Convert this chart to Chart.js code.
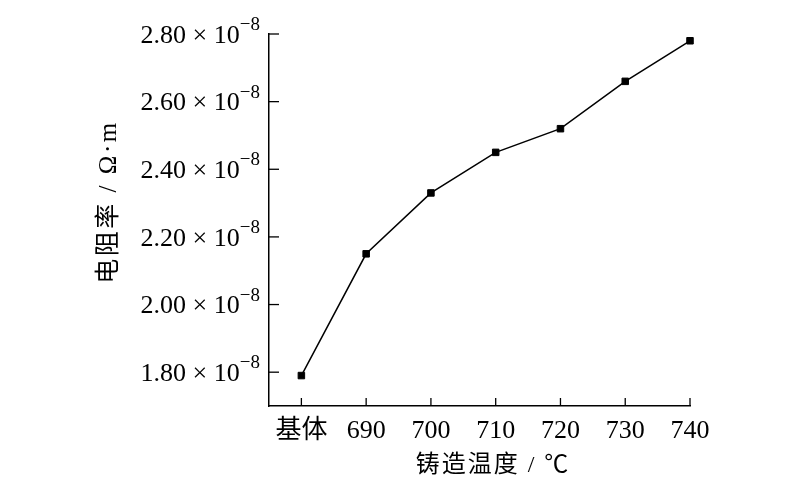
<!DOCTYPE html>
<html>
<head>
<meta charset="utf-8">
<script src="https://cdn.jsdelivr.net/npm/chart.js@4"></script>
<style>
  html, body { margin: 0; padding: 0; background: #fff; }
  #wrap { width: 800px; height: 492px; }
</style>
</head>
<body>
<div id="wrap"><canvas id="grafica"></canvas></div>
<script>
// datos
const categorias = ['基体', '690', '700', '710', '720', '730', '740'];
const resistividad = [1.79, 2.15, 2.33, 2.45, 2.52, 2.66, 2.78]; // ×10^-8 Ω·m
const ticksY = [1.80, 2.00, 2.20, 2.40, 2.60, 2.80];
const tituloX = '铸造温度 / ℃';
const tituloY = '电阻率 / Ω·m';

const fuenteNum = '"Liberation Serif", "Times New Roman", serif';
const fuenteMixta = '"Liberation Serif", "Noto Sans CJK SC", serif';

// dibuja etiquetas, marcas interiores y títulos a mano (superíndices)
const textos = {
  id: 'textos',
  afterDraw(chart) {
    const ctx = chart.ctx;
    const x = chart.scales.x, y = chart.scales.y;
    const area = chart.chartArea;
    ctx.save();
    ctx.strokeStyle = '#000';
    ctx.lineWidth = 1.3;
    ctx.fillStyle = '#000';

    // eje Y
    ticksY.forEach(v => {
      const py = y.getPixelForValue(v);
      ctx.beginPath();
      ctx.moveTo(area.left, py);
      ctx.lineTo(area.left + 10, py);
      ctx.stroke();
      // "2.80 × 10" + superíndice "−8"
      ctx.font = '19px ' + fuenteNum;
      ctx.textAlign = 'right';
      ctx.textBaseline = 'middle';
      const sup = '\u22128';
      const wSup = ctx.measureText(sup).width;
      const right = area.left - 9;
      ctx.fillText(sup, right, py - 9);
      ctx.font = '26px ' + fuenteNum;
      ctx.fillText(v.toFixed(2) + ' \u00d7 10', right - wSup, py + 2);
    });

    // eje X
    categorias.forEach((c, i) => {
      const px = x.getPixelForValue(i);
      ctx.beginPath();
      ctx.moveTo(px, area.bottom);
      ctx.lineTo(px, area.bottom - 8);
      ctx.stroke();
      ctx.font = '26px ' + fuenteMixta;
      ctx.textAlign = 'center';
      ctx.textBaseline = 'middle';
      ctx.fillText(c, px, area.bottom + 25);
    });

    // títulos
    ctx.font = '24px ' + fuenteMixta;
    ctx.textAlign = 'center';
    ctx.textBaseline = 'middle';
    ctx.letterSpacing = '2px';
    ctx.fillText(tituloX, 493, 466);

    ctx.font = '25px ' + fuenteMixta;
    ctx.letterSpacing = '2.5px';
    ctx.translate(109, 202);
    ctx.rotate(-Math.PI / 2);
    ctx.fillText(tituloY, 0, 0);
    ctx.restore();
  }
};

const ctxGrafica = document.getElementById('grafica').getContext('2d');
new Chart(ctxGrafica, {
  type: 'line',
  data: {
    datasets: [{
      label: '电阻率',
      data: resistividad.map((v, i) => ({ x: i, y: v })),
      borderColor: '#000',
      borderWidth: 1.5,
      backgroundColor: '#000',
      pointStyle: 'rect',
      pointRadius: 4.6,
      pointBorderWidth: 1,
      pointBackgroundColor: '#000',
      pointBorderColor: '#000',
      tension: 0,
      clip: false
    }]
  },
  options: {
    responsive: true,
    maintainAspectRatio: false,
    animation: false,
    layout: { padding: { left: 269, right: 110, top: 34, bottom: 86 } },
    plugins: { legend: { display: false }, tooltip: { enabled: false } },
    scales: {
      x: {
        type: 'linear',
        min: -0.5,
        max: 6,
        ticks: { display: false },
        grid: { display: false, drawTicks: false },
        border: { display: true, color: '#000', width: 1.5 }
      },
      y: {
        min: 1.70,
        max: 2.80,
        ticks: { display: false },
        grid: { display: false, drawTicks: false },
        border: { display: true, color: '#000', width: 1.5 }
      }
    }
  },
  plugins: [textos]
});
</script>
</body>
</html>
